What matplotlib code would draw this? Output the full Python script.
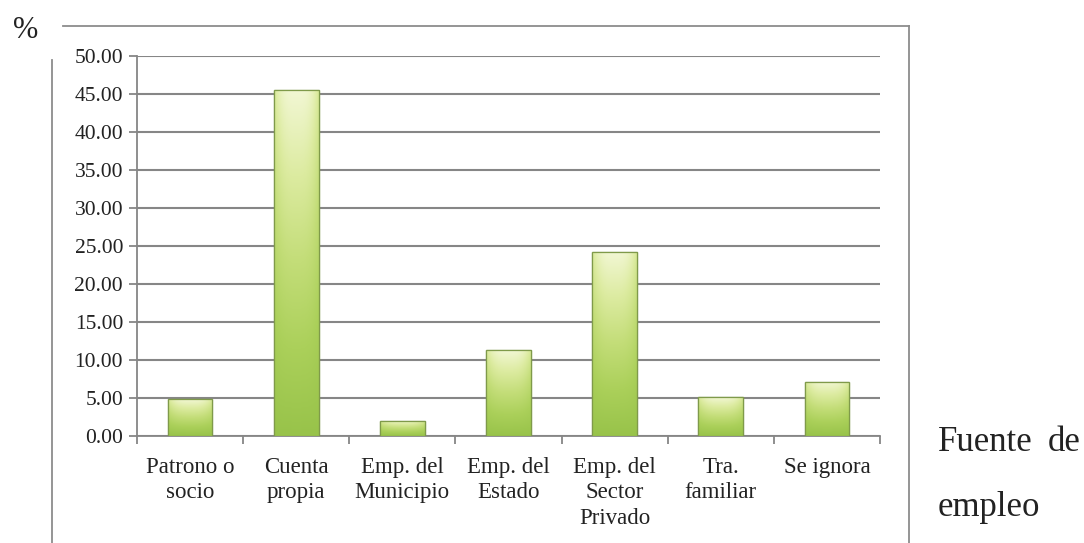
import matplotlib
matplotlib.use("Agg")
import matplotlib.pyplot as plt
import numpy as np
from matplotlib.lines import Line2D
from matplotlib.colors import LinearSegmentedColormap

plt.rcParams["font.family"] = ["Liberation Serif", "DejaVu Serif"]

categories = ["Patrono o\nsocio", "Cuenta\npropia", "Emp. del\nMunicipio", "Emp. del\nEstado",
              "Emp. del\nSector\nPrivado", "Tra.\nfamiliar", "Se ignora"]
values = [4.8, 45.5, 2.0, 11.3, 24.2, 5.1, 7.1]
yticks = [0, 5, 10, 15, 20, 25, 30, 35, 40, 45, 50]

W, H = 1084, 543
fig = plt.figure(figsize=(W / 100, H / 100), dpi=100)
ax = fig.add_axes([137 / W, 1 - 436 / H, (880 - 137) / W, (436 - 55.7) / H])

x = np.arange(len(categories))
bars = ax.bar(x, values, width=0.42, color="#b4d45e", edgecolor="#7f9a4a", linewidth=0.9, zorder=3)

# gradient fill inside each bar: light bevel at the top, darker green at the base
cmap = LinearSegmentedColormap.from_list("g", ["#98c34a", "#abd05a", "#c3dd78", "#dcebA0", "#f2f7d4"])
grad = np.linspace(0, 1, 256).reshape(-1, 1)
side = 1 - 0.3 * np.abs(np.linspace(-1, 1, 64)) ** 3
img = grad * side.reshape(1, -1)
for b in bars:
    x0, y0 = b.get_x(), b.get_y()
    w, h = b.get_width(), b.get_height()
    im = ax.imshow(img, cmap=cmap, vmin=0, vmax=1, origin="lower", aspect="auto",
                   extent=(x0, x0 + w, y0, y0 + h), zorder=3.5)
    im.set_clip_path(b)
    ax.add_patch(plt.Rectangle((x0, y0), w, h, fill=False, edgecolor="#7f9a4a",
                               linewidth=0.9, zorder=4))

ax.set_xlim(-0.5, len(categories) - 0.5)
ax.set_ylim(0, 50)
ax.set_yticks(yticks)
ax.set_yticklabels([f"{v:.2f}" for v in yticks], fontsize=15.5, color="#222222")
ax.yaxis.grid(True, color="#868686", linewidth=1.5, zorder=0)
ax.set_axisbelow(True)

ax.set_xticks(np.arange(-0.5, len(categories), 1))
ax.set_xticklabels([])
ax.set_xticks(x, minor=True)
ax.set_xticklabels(categories, minor=True, fontsize=16.5, color="#222222", linespacing=1.28)
ax.tick_params(axis="x", which="minor", length=0, pad=15)
ax.tick_params(axis="x", which="major", length=6, width=1.3, color="#868686")
ax.tick_params(axis="y", length=6, width=1.3, color="#868686", pad=4)

for s in ["top", "right"]:
    ax.spines[s].set_visible(False)
for s in ["left", "bottom"]:
    ax.spines[s].set_color("#868686")
    ax.spines[s].set_linewidth(1.3)

# outer frame lines from the page
def fx(px):
    return px / W

def fy(py):
    return 1 - py / H

fig.add_artist(Line2D([fx(63), fx(909)], [fy(26), fy(26)], color="#8c8c8c", lw=1.3))
fig.add_artist(Line2D([fx(909), fx(909)], [fy(26), fy(543)], color="#8c8c8c", lw=1.3))
fig.add_artist(Line2D([fx(52), fx(52)], [fy(60), fy(543)], color="#8c8c8c", lw=1.3))

fig.text(fx(13), fy(31), "%", fontsize=22, color="#222222", va="center", ha="left")
fig.text(fx(938), fy(451), "Fuente", fontsize=25, color="#222222", va="baseline", ha="left")
fig.text(fx(1081), fy(451), "de", fontsize=25, color="#222222", va="baseline", ha="right")
fig.text(fx(938), fy(516), "empleo", fontsize=25, color="#222222", va="baseline", ha="left")

fig.savefig("out.png", dpi=100)
